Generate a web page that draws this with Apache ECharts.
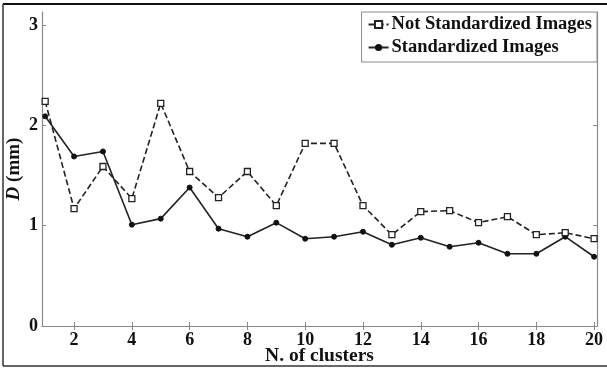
<!DOCTYPE html>
<html>
<head>
<meta charset="utf-8">
<script src="https://cdn.jsdelivr.net/npm/echarts@6/dist/echarts.min.js"></script>
<style>
  html, body { margin: 0; padding: 0; background: #fff; }
  #chart { width: 607px; height: 371px; }
</style>
</head>
<body>
<div id="chart"></div>
<script>
// N. of clusters
const clusters = [1, 2, 3, 4, 5, 6, 7, 8, 9, 10, 11, 12, 13, 14, 15, 16, 17, 18, 19, 20];
const notStandardized = [2.24, 1.17, 1.59, 1.27, 2.22, 1.54, 1.28, 1.54, 1.20, 1.82, 1.82, 1.20, 0.91, 1.14, 1.15, 1.03, 1.09, 0.91, 0.93, 0.87];
const standardized = [2.09, 1.69, 1.74, 1.01, 1.07, 1.38, 0.97, 0.89, 1.03, 0.87, 0.89, 0.94, 0.81, 0.88, 0.79, 0.83, 0.72, 0.72, 0.89, 0.69];
const xTicks = [2, 4, 6, 8, 10, 12, 14, 16, 18, 20];
const yTicks = [0, 1, 2, 3];

const font = 'Liberation Serif';
const axisGray = '#8a8a8a';

const chart = echarts.init(document.getElementById('chart'));

const pairs = (ys) => clusters.map((x, i) => [x, ys[i]]);

// shared settings for the box axes (top / right)
const boxAxis = {
  axisLine: { show: true, lineStyle: { color: axisGray, width: 1.2 } },
  axisTick: { show: true, inside: true, length: 4, lineStyle: { color: axisGray } },
  axisLabel: { show: false },
  splitLine: { show: false }
};

const option = {
  animation: false,
  backgroundColor: '#fff',
  textStyle: { fontFamily: font },
  grid: { left: 42, right: 10, top: 12, bottom: 45, outerBoundsMode: 'none' },
  legend: {
    right: 10,
    top: 12,
    orient: 'vertical',
    itemGap: 4,
    itemWidth: 20,
    itemHeight: 9,
    padding: [3, 5, 5, 6],
    backgroundColor: '#fff',
    borderColor: axisGray,
    borderWidth: 1,
    borderRadius: 0,
    textStyle: { fontFamily: font, fontWeight: 'bold', fontSize: 18.5, color: '#111', padding: [0, 0, 0, -2] },
    data: ['Not Standardized Images', 'Standardized Images']
  },
  xAxis: [
    {
      type: 'value',
      min: 0.89,
      max: 20.1,
      name: 'N. of clusters',
      nameLocation: 'middle',
      nameGap: 20,
      nameMoveOverlap: false,
      nameTextStyle: { fontFamily: font, fontWeight: 'bold', fontSize: 19.5, color: '#111' },
      axisLine: { show: true, lineStyle: { color: axisGray, width: 1.2 } },
      axisTick: { show: true, inside: true, length: 4, customValues: xTicks, lineStyle: { color: axisGray } },
      axisLabel: { customValues: xTicks, fontFamily: font, fontWeight: 'bold', fontSize: 18, color: '#111', margin: 5 },
      splitLine: { show: false }
    },
    Object.assign({ type: 'value', min: 0.89, max: 20.1, position: 'top' }, boxAxis,
      { axisTick: Object.assign({}, boxAxis.axisTick, { customValues: xTicks }) })
  ],
  yAxis: [
    {
      type: 'value',
      min: 0,
      max: 3.13,
      name: '{i|D} (mm)',
      nameLocation: 'middle',
      nameGap: 18,
      nameMoveOverlap: false,
      nameTextStyle: {
        fontFamily: font, fontWeight: 'bold', fontSize: 19, color: '#111',
        rich: { i: { fontFamily: font, fontStyle: 'italic', fontWeight: 'bold', fontSize: 19, color: '#111' } }
      },
      axisLine: { show: true, lineStyle: { color: axisGray, width: 1.2 } },
      axisTick: { show: true, inside: true, length: 4, customValues: yTicks, lineStyle: { color: axisGray } },
      axisLabel: { customValues: yTicks, fontFamily: font, fontWeight: 'bold', fontSize: 18, color: '#111', margin: 4 },
      splitLine: { show: false }
    },
    Object.assign({ type: 'value', min: 0, max: 3.13, position: 'right' }, boxAxis,
      { axisTick: Object.assign({}, boxAxis.axisTick, { customValues: yTicks }) })
  ],
  series: [
    {
      name: 'Not Standardized Images',
      type: 'line',
      data: pairs(notStandardized),
      symbol: 'rect',
      symbolSize: 6,
      itemStyle: { color: '#fff', borderColor: '#222', borderWidth: 1.3 },
      lineStyle: { color: '#222', width: 1.6, type: [6, 3] },
      z: 3
    },
    {
      name: 'Standardized Images',
      type: 'line',
      data: pairs(standardized),
      symbol: 'circle',
      symbolSize: 5,
      itemStyle: { color: '#111', borderColor: '#111' },
      lineStyle: { color: '#222', width: 1.6 },
      z: 2
    }
  ],
  graphic: [
    // outer frame of the figure
    { type: 'line', shape: { x1: 3, y1: 4, x2: 607, y2: 4 }, style: { stroke: '#111', lineWidth: 2 } },
    { type: 'line', shape: { x1: 3, y1: 4, x2: 3, y2: 366 }, style: { stroke: '#333', lineWidth: 1.5 } },
    { type: 'line', shape: { x1: 3, y1: 366, x2: 607, y2: 366 }, style: { stroke: '#333', lineWidth: 1.5 } }
  ]
};

chart.setOption(option);
</script>
</body>
</html>
